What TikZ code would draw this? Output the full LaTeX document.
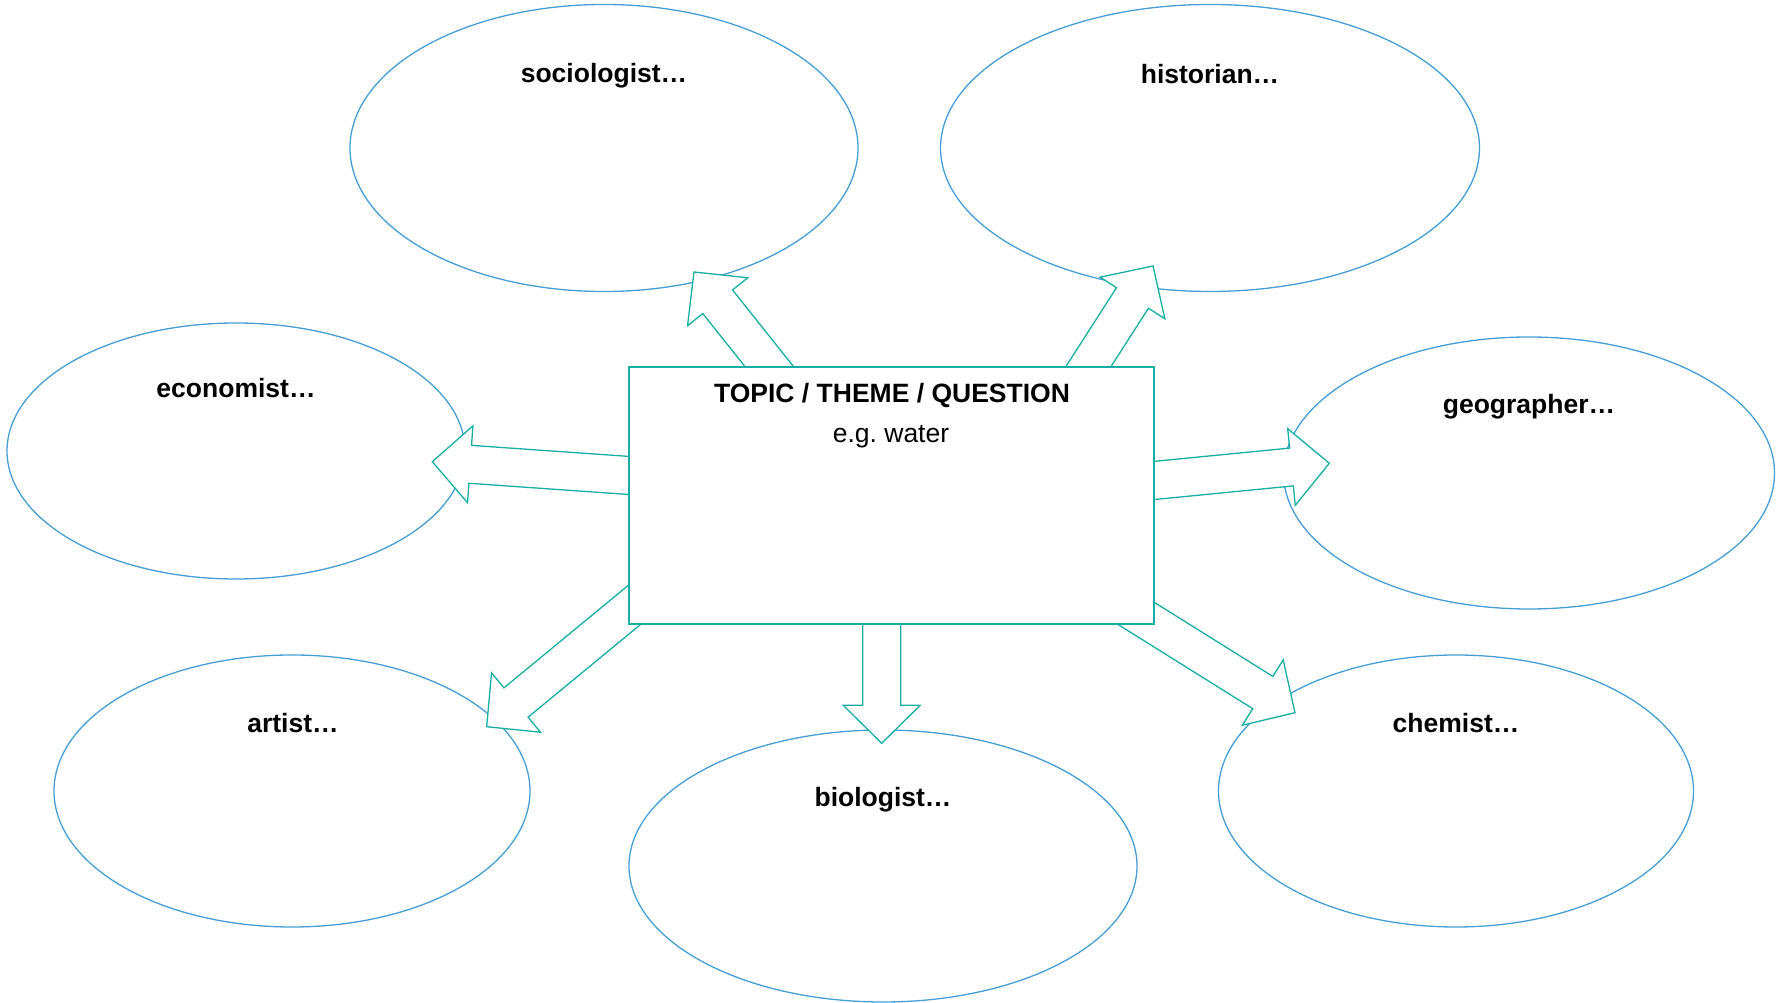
\documentclass[tikz,border=0pt]{standalone}
\usepackage{fontspec}
\setmainfont{Liberation Sans}
\usetikzlibrary{shapes.geometric}
\definecolor{bubbleblue}{RGB}{70,158,212}
\definecolor{linkteal}{RGB}{24,174,164}
\frenchspacing
\begin{document}
\begin{tikzpicture}[x=1pt,y=1pt,
  bubble/.style={ellipse, draw=bubbleblue, line width=1.3pt, fill=white, inner sep=0pt},
  lbl/.style={font=\bfseries\fontsize{26.5}{30}\selectfont, text=black, inner sep=0pt},
  plain/.style={font=\fontsize{26.5}{30}\selectfont, text=black, inner sep=0pt},
  topicbox/.style={draw=linkteal, line width=1.3pt, fill=white,
    minimum width=525pt, minimum height=257pt, inner sep=0pt},
  blockarrow/.pic={
    \draw[draw=linkteal, fill=white, line width=1.3pt, line join=miter]
      (0,0) -- (-38,38.5) -- (-38,19) -- (-260,19) -- (-260,-19)
      -- (-38,-19) -- (-38,-38.5) -- cycle;}
]
\useasboundingbox (0,0) rectangle (1777,1003);

% discipline bubbles
\node[bubble, minimum width=508pt, minimum height=287pt] (soc)  at (604,855) {};
\node[bubble, minimum width=539pt, minimum height=287pt] (hist) at (1210,855) {};
\node[bubble, minimum width=458pt, minimum height=256pt] (eco)  at (236,552) {};
\node[bubble, minimum width=491pt, minimum height=272pt] (geo)  at (1529,530) {};
\node[bubble, minimum width=476pt, minimum height=272pt] (art)  at (292,212) {};
\node[bubble, minimum width=508pt, minimum height=272pt] (bio)  at (883,137) {};
\node[bubble, minimum width=475pt, minimum height=272pt] (chem) at (1456,212) {};

% arrow tips
\coordinate (socTip)  at (694,731);
\coordinate (histTip) at (1153,737);
\coordinate (ecoTip)  at (432.3,541.3);
\coordinate (geoTip)  at (1329.3,539.7);
\coordinate (artTip)  at (486.7,276.3);
\coordinate (bioTip)  at (881.7,259.7);
\coordinate (chemTip) at (1295,290.3);

% block arrows leaving the central box
\pic[rotate=128.5] at (socTip)  {blockarrow};
\pic[rotate=57.3]  at (histTip) {blockarrow};
\pic[rotate=176]   at (ecoTip)  {blockarrow};
\pic[rotate=5.6]   at (geoTip)  {blockarrow};
\pic[rotate=219.5] at (artTip)  {blockarrow};
\pic[rotate=270]   at (bioTip)  {blockarrow};
\pic[rotate=-32]   at (chemTip) {blockarrow};

% central box
\node[topicbox] (topic) at (891.5,507.5) {};
\node[lbl]   (topicTitle) at (892,607) {TOPIC / THEME / QUESTION};
\node[plain] (topicEg)    at (891,566)   {e.g. water};

% bubble labels
\node[lbl] (socLbl)  at (604,927.5)  {sociologist…};
\node[lbl] (histLbl) at (1210,928.5) {historian…};
\node[lbl] (ecoLbl)  at (236,615)  {economist…};
\node[lbl] (geoLbl)  at (1529,596) {geographer…};
\node[lbl] (artLbl)  at (293,280)    {artist…};
\node[lbl] (bioLbl)  at (883,203)  {biologist…};
\node[lbl] (chemLbl) at (1456,280)   {chemist…};
\end{tikzpicture}
\end{document}
